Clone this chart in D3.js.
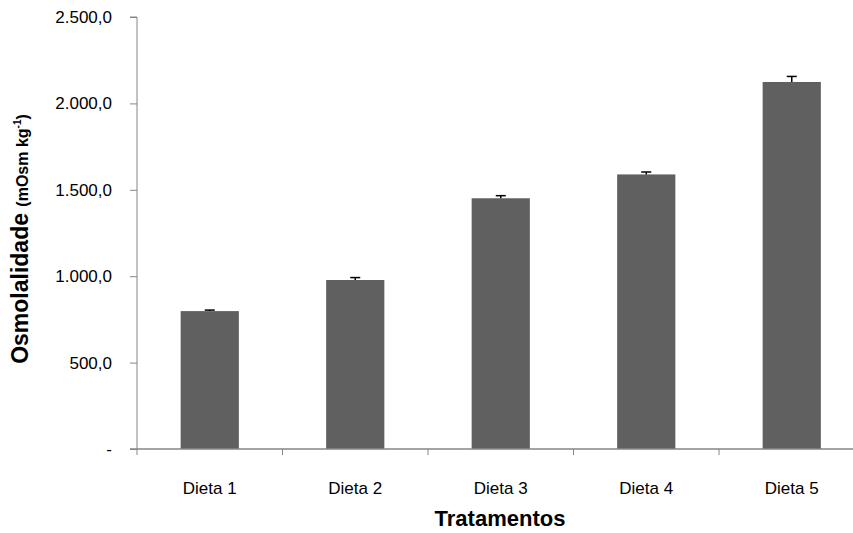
<!DOCTYPE html>
<html>
<head>
<meta charset="utf-8">
<script src="https://cdn.jsdelivr.net/npm/d3@7"></script>
<style>
  html, body { margin: 0; padding: 0; background: #fff; overflow: hidden; }
  svg { display: block; }
</style>
</head>
<body>
<svg id="chart" width="853" height="533"></svg>
<script>
// Osmolality per diet (mOsm kg-1) with standard error
const categories = ["Dieta 1", "Dieta 2", "Dieta 3", "Dieta 4", "Dieta 5"];
const values = [798, 978, 1451, 1589, 2124];
const errors = [6, 14, 15, 14, 32];
const yTicks = [0, 500, 1000, 1500, 2000, 2500];

// Portuguese number style: "." for thousands, "," for decimals, "-" for zero
const fmt = v => v === 0 ? "-" : d3.format(",.1f")(v).replace(/,/g, "#").replace(/\./g, ",").replace(/#/g, ".");

const svg = d3.select("#chart");
const axisColor = "#868686";
const barColor = "#606060";
const font = "'Liberation Sans', Arial, sans-serif";

const x0 = 137, y0 = 449, yTop = 17;
const bandW = 145.5;

const x = d3.scaleBand()
  .domain(categories)
  .range([x0, x0 + bandW * categories.length])
  .paddingInner(0.6)
  .paddingOuter(0.3);

const y = d3.scaleLinear().domain([0, 2500]).range([y0, yTop]);

// bars
svg.append("g").selectAll("rect")
  .data(categories)
  .join("rect")
  .attr("x", d => x(d))
  .attr("y", (d, i) => y(values[i]))
  .attr("width", x.bandwidth())
  .attr("height", (d, i) => y0 - y(values[i]))
  .attr("fill", barColor);

// error bars (upper only)
const eb = svg.append("g").attr("stroke", "#000").attr("stroke-width", 1.5);
categories.forEach((c, i) => {
  const cx = x(c) + x.bandwidth() / 2;
  eb.append("line")
    .attr("x1", cx).attr("x2", cx)
    .attr("y1", y(values[i])).attr("y2", y(values[i] + errors[i]));
  eb.append("line")
    .attr("x1", cx - 5).attr("x2", cx + 5)
    .attr("y1", y(values[i] + errors[i])).attr("y2", y(values[i] + errors[i]));
});

// y axis
const yAxis = d3.axisLeft(y).tickValues(yTicks).tickFormat(fmt).tickSize(7).tickPadding(18);
const gy = svg.append("g").attr("transform", `translate(${x0},0)`).call(yAxis);
gy.select(".domain").attr("stroke", axisColor).attr("d", `M-7,${yTop}H0V${y0 + 6}`);
gy.selectAll(".tick line").attr("stroke", axisColor);
gy.selectAll(".tick text")
  .attr("fill", "#000")
  .style("font-family", font)
  .style("font-size", "17px");

// x axis
const gx = svg.append("g").attr("transform", `translate(0,${y0})`);
gx.append("line")
  .attr("x1", x0 - 7).attr("x2", 853)
  .attr("y1", 0).attr("y2", 0)
  .attr("stroke", axisColor).attr("stroke-width", 1.5);
// tick marks on the boundaries between categories
const bounds = d3.range(1, categories.length).map(i => x0 + i * bandW);
gx.selectAll(".sep").data(bounds).join("line")
  .attr("x1", d => d).attr("x2", d => d)
  .attr("y1", 0).attr("y2", 6)
  .attr("stroke", axisColor);
gx.selectAll(".lbl").data(categories).join("text")
  .attr("x", d => x(d) + x.bandwidth() / 2)
  .attr("y", 45)
  .attr("text-anchor", "middle")
  .style("font-family", font)
  .style("font-size", "17px")
  .text(d => d);

// axis titles
svg.append("text")
  .attr("x", 500).attr("y", 526)
  .attr("text-anchor", "middle")
  .style("font-family", font)
  .style("font-weight", "bold")
  .style("font-size", "22px")
  .text("Tratamentos");

const yt = svg.append("text")
  .attr("transform", "translate(28,239) rotate(-90)")
  .attr("text-anchor", "middle")
  .style("font-family", font)
  .style("font-weight", "bold")
  .style("font-size", "23px");
yt.append("tspan").text("Osmolalidade ");
yt.append("tspan").style("font-size", "16px").text("(mOsm kg");
yt.append("tspan").style("font-size", "10px").attr("dy", "-7").text("-1");
yt.append("tspan").style("font-size", "16px").attr("dy", "7").text(")");
</script>
</body>
</html>
